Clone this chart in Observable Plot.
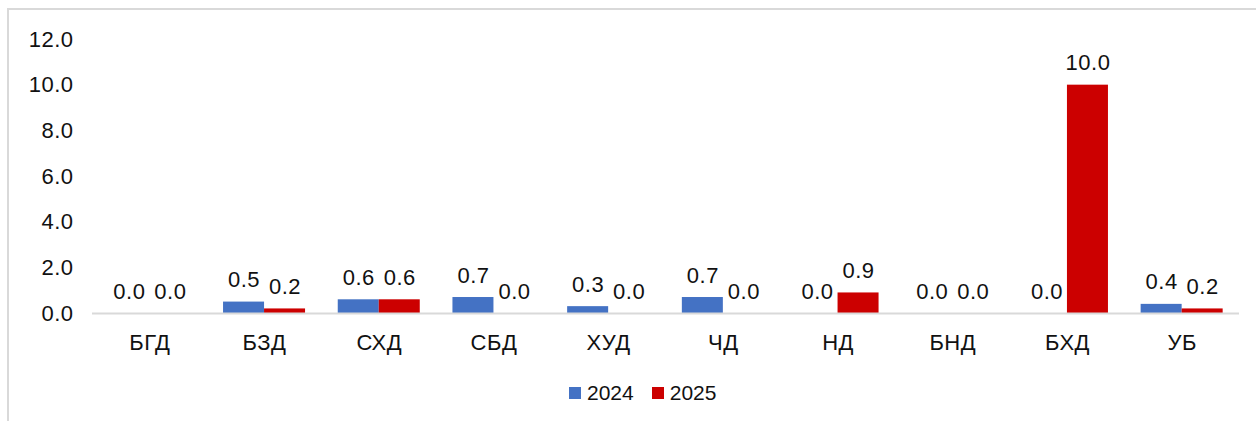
<!DOCTYPE html>
<html>
<head>
<meta charset="utf-8">
<script src="https://cdn.jsdelivr.net/npm/d3@7"></script>
<script src="https://cdn.jsdelivr.net/npm/@observablehq/plot@0.6"></script>
<style>
  html, body { margin: 0; padding: 0; background: #fff; overflow: hidden; width: 1256px; height: 421px; }
  body { position: relative; font-family: "Liberation Sans", Arial, sans-serif; }
  #frame { position: absolute; left: 7px; top: 8px; width: 1400px; height: 600px; border: 2px solid #d9d9d9; box-sizing: border-box; }
  #chart { position: absolute; left: 0; top: 0; }
  #chart svg text { letter-spacing: 0.5px; }
  #legend { position: absolute; left: 569px; top: 381px; display: flex; align-items: center; font-size: 21px; line-height: 24px; color: #111; }
  .sw { width: 12px; height: 12px; display: inline-block; margin-right: 6px; }
  .item { display: flex; align-items: center; margin-right: 18px; }
</style>
</head>
<body>
<div id="frame"></div>
<div id="chart"></div>
<div id="legend"></div>
<script>
const categories = ["БГД", "БЗД", "СХД", "СБД", "ХУД", "ЧД", "НД", "БНД", "БХД", "УБ"];
const series = ["2024", "2025"];
const values2024 = [0.0, 0.5, 0.6, 0.7, 0.3, 0.7, 0.0, 0.0, 0.0, 0.4];
const values2025 = [0.0, 0.2, 0.6, 0.0, 0.0, 0.0, 0.9, 0.0, 10.0, 0.2];
const yTicks = [0, 2, 4, 6, 8, 10, 12];
const colors = ["#4472C4", "#CC0000"];

const data = categories.map((c, i) => ({cat: c, v2024: values2024[i], v2025: values2025[i]}));

const W = 1256, H = 360, ML = 92, MR = 17, MT = 39, MB = 47;
const padIn = 0.285, padOut = 0.1425;
const bw = (W - ML - MR) / (categories.length - padIn + 2 * padOut) * (1 - padIn);
const fs = 22;

const plot = Plot.plot({
  width: W, height: H,
  marginLeft: ML, marginRight: MR, marginTop: MT, marginBottom: MB,
  style: {fontFamily: "'Liberation Sans', Arial, sans-serif", fontSize: fs + "px", color: "#111", background: "transparent"},
  x: {domain: categories, paddingInner: padIn, paddingOuter: padOut, round: false, axis: null},
  y: {domain: [0, 12], axis: null},
  marks: [
    Plot.axisY({ticks: yTicks, tickFormat: d => d.toFixed(1), tickSize: 0, tickPadding: 19, fontSize: fs, label: null}),
    Plot.axisX({tickSize: 0, tickPadding: 21, fontSize: fs, label: null}),
    Plot.barY(data, {x: "cat", y: "v2024", fill: colors[0], insetRight: bw / 2, insetLeft: 0}),
    Plot.barY(data, {x: "cat", y: "v2025", fill: colors[1], insetLeft: bw / 2, insetRight: 0}),
    Plot.ruleY([0], {stroke: "#d9d9d9", strokeWidth: 2}),
    Plot.text(data, {x: "cat", y: "v2024", text: d => d.v2024.toFixed(1), dx: -bw / 4, dy: -15, lineAnchor: "bottom", fontSize: fs, fill: "#111"}),
    Plot.text(data, {x: "cat", y: "v2025", text: d => d.v2025.toFixed(1), dx: bw / 4, dy: -15, lineAnchor: "bottom", fontSize: fs, fill: "#111"})
  ]
});
document.getElementById("chart").appendChild(plot);

const legend = document.getElementById("legend");
series.forEach((s, i) => {
  const item = document.createElement("span");
  item.className = "item";
  const sw = document.createElement("span");
  sw.className = "sw";
  sw.style.background = colors[i];
  item.appendChild(sw);
  item.appendChild(document.createTextNode(s));
  legend.appendChild(item);
});
</script>
</body>
</html>
